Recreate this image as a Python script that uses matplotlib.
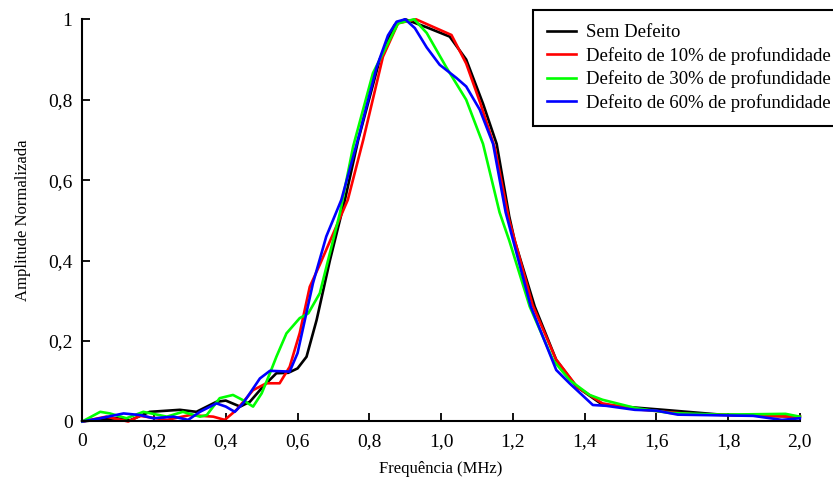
import matplotlib
matplotlib.use("Agg")
import matplotlib.pyplot as plt

plt.rcParams['font.family'] = ['Liberation Serif', 'DejaVu Serif']

# Sem Defeito
x_sem = [0, 0.05, 0.096, 0.133, 0.188, 0.272, 0.318, 0.374, 0.40, 0.44, 0.467, 0.504,
         0.541, 0.574, 0.60, 0.625, 0.653, 0.69, 0.732, 0.769, 0.829, 0.87, 0.90, 0.96,
         1.024, 1.07, 1.117, 1.155, 1.19, 1.205, 1.261, 1.321, 1.377, 1.451, 1.62, 1.78, 2.0]
y_sem = [0, 0.005, 0.008, 0.003, 0.024, 0.029, 0.024, 0.049, 0.052, 0.037, 0.049, 0.087,
         0.12, 0.121, 0.132, 0.161, 0.252, 0.40, 0.551, 0.70, 0.90, 0.985, 1.0, 0.98,
         0.957, 0.90, 0.79, 0.69, 0.51, 0.45, 0.286, 0.153, 0.087, 0.041, 0.029, 0.017, 0.012]

# Defeito 10%
x_10 = [0, 0.067, 0.128, 0.161, 0.236, 0.30, 0.365, 0.397, 0.43, 0.476, 0.513, 0.55,
        0.578, 0.606, 0.634, 0.662, 0.74, 0.783, 0.838, 0.88, 0.93, 0.996, 1.029, 1.07,
        1.11, 1.15, 1.19, 1.255, 1.32, 1.38, 1.45, 1.55, 1.7, 1.85, 2.0]
y_10 = [0, 0.012, 0.0, 0.014, 0.004, 0.016, 0.012, 0.004, 0.029, 0.078, 0.095, 0.095,
        0.136, 0.22, 0.335, 0.39, 0.551, 0.70, 0.907, 0.99, 1.0, 0.974, 0.961, 0.89,
        0.79, 0.68, 0.50, 0.29, 0.155, 0.085, 0.045, 0.03, 0.018, 0.015, 0.012]

# Defeito 30%
x_30 = [0, 0.05, 0.077, 0.123, 0.17, 0.236, 0.28, 0.328, 0.347, 0.383, 0.42, 0.448,
        0.476, 0.50, 0.523, 0.541, 0.569, 0.606, 0.63, 0.662, 0.718, 0.755, 0.81, 0.88,
        0.925, 0.96, 1.015, 1.07, 1.117, 1.163, 1.19, 1.247, 1.312, 1.358, 1.414, 1.45,
        1.544, 1.64, 1.78, 1.96, 2.0]
y_30 = [0, 0.024, 0.02, 0.008, 0.024, 0.012, 0.024, 0.012, 0.016, 0.058, 0.066, 0.053,
        0.037, 0.07, 0.12, 0.161, 0.219, 0.257, 0.269, 0.319, 0.518, 0.684, 0.866, 0.99,
        1.0, 0.966, 0.88, 0.80, 0.69, 0.52, 0.45, 0.286, 0.153, 0.103, 0.066, 0.054,
        0.033, 0.021, 0.017, 0.019, 0.012]

# Defeito 60%
x_60 = [0, 0.05, 0.115, 0.161, 0.198, 0.254, 0.295, 0.328, 0.374, 0.40, 0.425, 0.448,
        0.495, 0.523, 0.578, 0.60, 0.643, 0.68, 0.722, 0.773, 0.82, 0.852, 0.876, 0.90,
        0.927, 0.96, 0.996, 1.043, 1.07, 1.108, 1.145, 1.18, 1.25, 1.321, 1.358, 1.423,
        1.46, 1.54, 1.60, 1.66, 1.87, 1.95, 2.0]
y_60 = [0, 0.008, 0.02, 0.016, 0.008, 0.012, 0.004, 0.024, 0.045, 0.037, 0.024, 0.045,
        0.107, 0.126, 0.124, 0.17, 0.344, 0.46, 0.551, 0.717, 0.88, 0.96, 0.994, 1.0,
        0.978, 0.93, 0.887, 0.854, 0.833, 0.775, 0.69, 0.52, 0.286, 0.128, 0.095, 0.041,
        0.039, 0.029, 0.027, 0.017, 0.014, 0.004, 0.008]

labels = ["Sem Defeito", "Defeito de 10% de profundidade",
          "Defeito de 30% de profundidade", "Defeito de 60% de profundidade"]
xticks = [0, 0.2, 0.4, 0.6, 0.8, 1.0, 1.2, 1.4, 1.6, 1.8, 2.0]
xticklabels = ["0", "0,2", "0,4", "0,6", "0,8", "1,0", "1,2", "1,4", "1,6", "1,8", "2,0"]
yticks = [0, 0.2, 0.4, 0.6, 0.8, 1.0]
yticklabels = ["0", "0,2", "0,4", "0,6", "0,8", "1"]

fig = plt.figure(figsize=(8.33, 4.8), dpi=100)
ax = fig.add_axes([0.0988, 0.1219, 0.8614, 0.8379])

ax.plot(x_sem, y_sem, color="black", lw=1.9, label=labels[0], clip_on=False)
ax.plot(x_10, y_10, color="#ff0000", lw=1.9, label=labels[1], clip_on=False)
ax.plot(x_30, y_30, color="#00ff00", lw=1.9, label=labels[2], clip_on=False)
ax.plot(x_60, y_60, color="#0000ff", lw=1.9, label=labels[3], clip_on=False)

ax.set_xlim(0, 2.0)
ax.set_ylim(0, 1.0)
ax.set_xticks(xticks)
ax.set_xticklabels(xticklabels)
ax.set_yticks(yticks)
ax.set_yticklabels(yticklabels)

for s in ["top", "right"]:
    ax.spines[s].set_visible(False)
for s in ["left", "bottom"]:
    ax.spines[s].set_linewidth(1.5)

ax.tick_params(axis="both", direction="in", length=6, width=1.3, labelsize=14)
ax.tick_params(axis="y", pad=7)
ax.tick_params(axis="x", pad=8)

ax.set_xlabel("Frequência (MHz)", fontsize=12, labelpad=8)
ax.set_ylabel("Amplitude Normalizada", fontsize=12, labelpad=12)

# legend box runs off the right edge, like the original
leg = fig.legend(loc="upper right", bbox_to_anchor=(1.014, 0.979), fontsize=13.5,
                 frameon=True, fancybox=False, edgecolor="black", framealpha=1,
                 handlelength=1.5, handletextpad=0.55, labelspacing=0.3,
                 borderpad=0.75, borderaxespad=0)
leg.get_frame().set_linewidth(1.5)

fig.savefig("out.png", dpi=100)
